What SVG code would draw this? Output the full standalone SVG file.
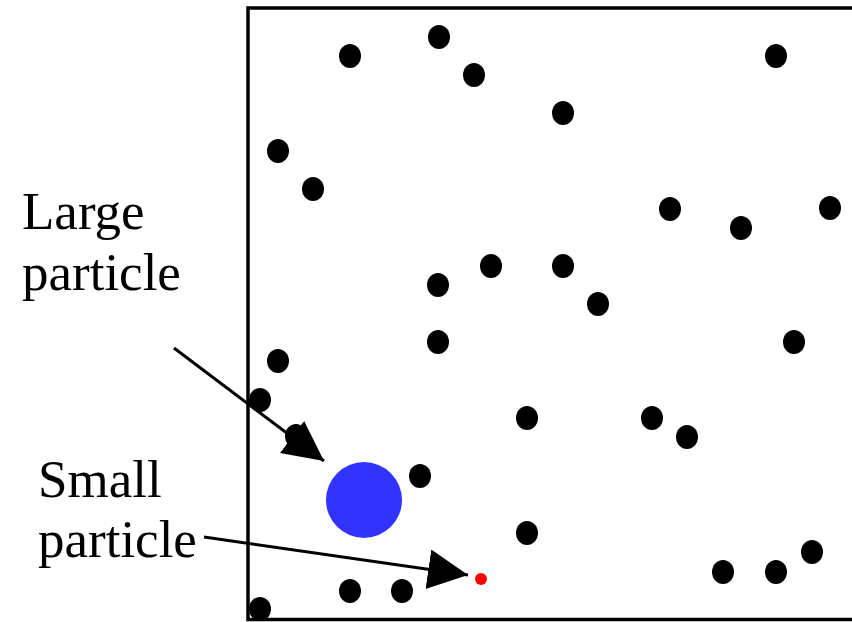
<svg xmlns="http://www.w3.org/2000/svg" width="852" height="622" viewBox="0 0 852 622">
<style>
.box{fill:none;stroke:#000;stroke-width:3.5}
.p{fill:#000}
.lbl{font-family:"Liberation Serif","Times New Roman",serif;font-size:53px;fill:#000}
.conn{stroke:#000;stroke-width:3;fill:none}
</style>
<defs>
<marker id="ah" markerUnits="userSpaceOnUse" markerWidth="42" markerHeight="42" refX="40" refY="20" orient="auto" viewBox="0 0 42 42">
<path d="M0,0 L40,20 L0,40 Z" fill="#000"/>
</marker>
</defs>
<rect width="852" height="622" fill="#fff"/>
<g id="container">
<rect class="box" x="248" y="8" width="700" height="611.5"/>
</g>
<g id="particles">
<ellipse class="p" cx="350" cy="56" rx="11" ry="12"/>
<ellipse class="p" cx="439" cy="37" rx="11" ry="12"/>
<ellipse class="p" cx="474" cy="75" rx="11" ry="12"/>
<ellipse class="p" cx="563" cy="113" rx="11" ry="12"/>
<ellipse class="p" cx="776" cy="56" rx="11" ry="12"/>
<ellipse class="p" cx="278" cy="151" rx="11" ry="12"/>
<ellipse class="p" cx="313" cy="189" rx="11" ry="12"/>
<ellipse class="p" cx="670" cy="209" rx="11" ry="12"/>
<ellipse class="p" cx="741" cy="228" rx="11" ry="12"/>
<ellipse class="p" cx="830" cy="208" rx="11" ry="12"/>
<ellipse class="p" cx="491" cy="266" rx="11" ry="12"/>
<ellipse class="p" cx="563" cy="266" rx="11" ry="12"/>
<ellipse class="p" cx="438" cy="285" rx="11" ry="12"/>
<ellipse class="p" cx="598" cy="304" rx="11" ry="12"/>
<ellipse class="p" cx="438" cy="342" rx="11" ry="12"/>
<ellipse class="p" cx="278" cy="361" rx="11" ry="12"/>
<ellipse class="p" cx="794" cy="342" rx="11" ry="12"/>
<ellipse class="p" cx="260" cy="400" rx="11" ry="12"/>
<ellipse class="p" cx="527" cy="418" rx="11" ry="12"/>
<ellipse class="p" cx="652" cy="418" rx="11" ry="12"/>
<ellipse class="p" cx="687" cy="437" rx="11" ry="12"/>
<ellipse class="p" cx="296" cy="436" rx="11" ry="12"/>
<ellipse class="p" cx="420" cy="476" rx="11" ry="12"/>
<ellipse class="p" cx="527" cy="533" rx="11" ry="12"/>
<ellipse class="p" cx="812" cy="552" rx="11" ry="12"/>
<ellipse class="p" cx="723" cy="572" rx="11" ry="12"/>
<ellipse class="p" cx="776" cy="572" rx="11" ry="12"/>
<ellipse class="p" cx="350" cy="591" rx="11" ry="12"/>
<ellipse class="p" cx="402" cy="591" rx="11" ry="12"/>
<ellipse class="p" cx="260" cy="609" rx="11" ry="12"/>
</g>
<g id="large-particle">
<circle cx="364" cy="500" r="38" fill="#3333ff"/>
</g>
<g id="small-particle">
<circle cx="481" cy="579" r="6" fill="#ff0000"/>
</g>
<g id="label-large">
<text class="lbl" x="22" y="229">Large</text>
<text class="lbl" x="22" y="290">particle</text>
</g>
<g id="label-small">
<text class="lbl" x="38" y="497">Small</text>
<text class="lbl" x="38" y="557">particle</text>
</g>
<g id="connectors">
<line class="conn" x1="174" y1="348" x2="324" y2="461" marker-end="url(#ah)"/>
<line class="conn" x1="204" y1="537" x2="468" y2="575" marker-end="url(#ah)"/>
</g>
</svg>
